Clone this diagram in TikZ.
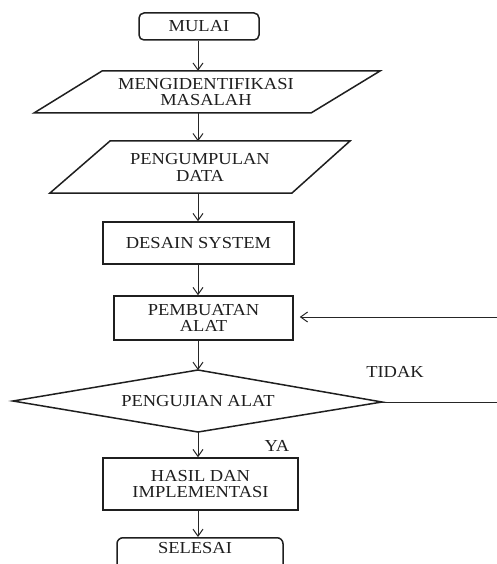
\documentclass[tikz,border=0pt]{standalone}
\usepackage{fontspec}
\setmainfont{Liberation Serif}[FakeStretch=1.1]
\usetikzlibrary{arrows.meta}
\begin{document}
\begin{tikzpicture}[x=1pt,y=-1pt,
  shapeline/.style={draw=black!88, line width=1.5pt},
  boxnode/.style={shapeline, inner sep=0pt, align=center},
  txt/.style={inner sep=0pt, align=center, text=black!88, font=\fontsize{16.8}{16.5}\selectfont},
  conn/.style={draw=black!85, line width=1pt},
  arr/.style={conn, -{Straight Barb[length=7pt,width=10pt,line width=1pt]}}]
\useasboundingbox (0,0) rectangle (497,564);
\clip (0,0) rectangle (497,564);
\fill[white] (0,0) rectangle (497,564);
\coordinate (ax) at (198,0);

% MULAI
\node[boxnode, txt, draw=black!88, line width=1.5pt, rounded corners=5pt,
  minimum width=120pt, minimum height=27pt] (mulai) at (199,26.5) {MULAI};

% parallelogram 1
\draw[shapeline, line join=miter] (102,71) -- (380,71) -- (311,113) -- (34,113) -- cycle;
\node[txt, minimum height=42pt] (p1) at (206,92) {MENGIDENTIFIKASI\\MASALAH};

% parallelogram 2
\draw[shapeline, line join=miter] (110,141) -- (350,141) -- (292,193) -- (50,193) -- cycle;
\node[txt, minimum height=52pt] (p2) at (200,167.5) {PENGUMPULAN\\DATA};

% DESAIN SYSTEM
\node[boxnode, txt, draw=black!88, line width=1.5pt,
  minimum width=191pt, minimum height=42pt] (desain) at (198.5,243) {DESAIN SYSTEM};

% PEMBUATAN ALAT
\node[boxnode, txt, draw=black!88, line width=1.5pt,
  minimum width=179pt, minimum height=44pt] (pem) at (203.5,318) {PEMBUATAN\\ALAT};

% diamond
\coordinate (dT) at (198,370);
\coordinate (dB) at (198,432);
\coordinate (dL) at (13,401);
\coordinate (dE) at (382,402);
\draw[shapeline, line join=miter] (dT) -- (dE) -- (dB) -- (dL) -- cycle;
\node[txt] (uji) at (198,401.5) {PENGUJIAN ALAT};

% HASIL DAN IMPLEMENTASI
\node[boxnode, txt, draw=black!88, line width=1.5pt,
  minimum width=195pt, minimum height=52pt] (hasil) at (200.5,484) {HASIL DAN\\IMPLEMENTASI};

% SELESAI (cut off at the bottom)
\node[boxnode, draw=black!88, line width=1.5pt, rounded corners=6pt,
  minimum width=166pt, minimum height=44pt, anchor=north] (sel) at (200,537) {};
\node[txt] (seltxt) at (195,548) {SELESAI};

% labels
\node[txt] (tidak) at (395,372) {TIDAK};
\node[txt] (ya) at (277,445.5) {YA};

% connectors
\draw[arr] (mulai.south -| ax) -- (p1.north -| ax);
\draw[arr] (p1.south -| ax) -- (p2.north -| ax);
\draw[arr] (p2.south -| ax) -- (desain.north -| ax);
\draw[arr] (desain.south -| ax) -- (pem.north -| ax);
\draw[arr] (pem.south -| ax) -- (dT);
\draw[arr] (dB) -- (hasil.north -| ax);
\draw[arr] (hasil.south -| ax) -- (sel.north -| ax);

% feedback loop (vertical part lies just outside the picture)
\coordinate (rb) at (499,402);
\coordinate (rt) at (499,317);
\draw[arr, shorten >=6pt] (dE) -- (rb) -- (rt) -- (pem.east |- rt);
\end{tikzpicture}
\end{document}
